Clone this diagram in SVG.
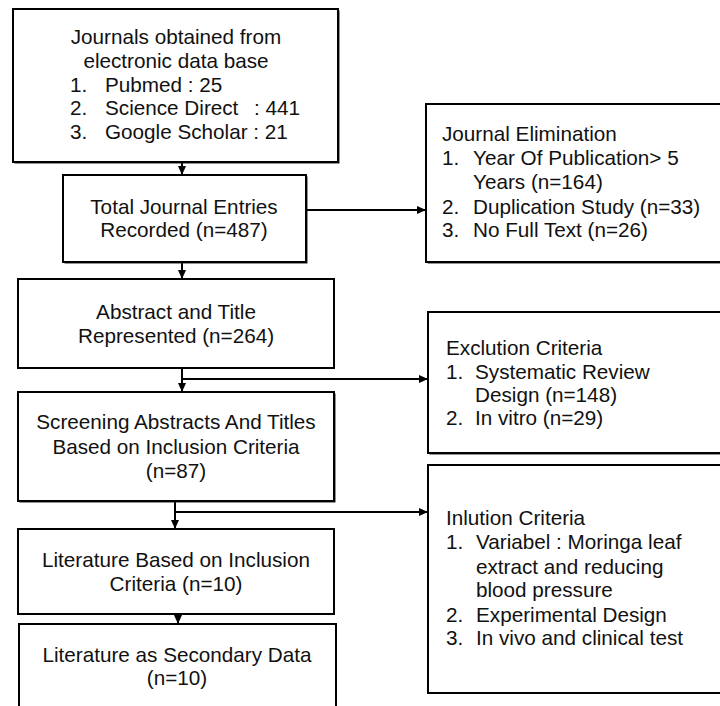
<svg xmlns="http://www.w3.org/2000/svg" width="720" height="706" viewBox="0 0 720 706">
<defs>
<style>
.box{fill:#fff;stroke:#000;stroke-width:2}
.sh{fill:#222}
text{font-family:"Liberation Sans",Arial,sans-serif;font-size:20.7px;fill:#111}
.c{text-anchor:middle}
.ln{stroke:#000;stroke-width:2;fill:none}
</style>
<marker id="ah" markerWidth="10" markerHeight="10" refX="9" refY="5" orient="auto" markerUnits="userSpaceOnUse">
<path d="M0,1 L9,5 L0,9 Z" fill="#000"/>
</marker>
</defs>
<rect width="720" height="706" fill="#fff"/>

<g id="connectors">
<line class="ln" x1="182" y1="162" x2="182" y2="175" marker-end="url(#ah)"/>
<line class="ln" x1="306" y1="210" x2="426" y2="210" marker-end="url(#ah)"/>
<line class="ln" x1="182" y1="262" x2="182" y2="279" marker-end="url(#ah)"/>
<line class="ln" x1="182" y1="368" x2="182" y2="392" marker-end="url(#ah)"/>
<line class="ln" x1="182" y1="379" x2="428" y2="379" marker-end="url(#ah)"/>
<line class="ln" x1="175" y1="501" x2="175" y2="529" marker-end="url(#ah)"/>
<line class="ln" x1="175" y1="512" x2="428" y2="512" marker-end="url(#ah)"/>
<line class="ln" x1="178" y1="614" x2="178" y2="624" marker-end="url(#ah)"/>
</g>

<g id="n1">
<rect class="sh" x="14.5" y="10.5" width="325" height="153"/>
<rect class="box" x="13" y="9" width="325" height="153"/>
<text class="c" x="176" y="44">Journals obtained from</text>
<text class="c" x="176" y="68">electronic data base</text>
<text x="70" y="92">1.</text><text x="105" y="92">Pubmed : 25</text>
<text x="70" y="115">2.</text><text x="105" y="115">Science Direct</text><text x="254" y="115">: 441</text>
<text x="70" y="139">3.</text><text x="105" y="139">Google Scholar : 21</text>
</g>

<g id="n2">
<rect class="sh" x="64.5" y="176.5" width="243" height="87"/>
<rect class="box" x="63" y="175" width="243" height="87"/>
<text class="c" x="184" y="214">Total Journal Entries</text>
<text class="c" x="184" y="237">Recorded (n=487)</text>
</g>

<g id="n3">
<rect class="sh" x="427.5" y="105.5" width="310" height="158"/>
<rect class="box" x="426" y="104" width="310" height="158"/>
<text x="442" y="141">Journal Elimination</text>
<text x="442" y="165">1.</text><text x="473" y="165">Year Of Publication&gt; 5</text>
<text x="473" y="189">Years (n=164)</text>
<text x="442" y="214">2.</text><text x="473" y="214">Duplication Study (n=33)</text>
<text x="442" y="237">3.</text><text x="473" y="237">No Full Text (n=26)</text>
</g>

<g id="n4">
<rect class="box" x="18" y="279" width="316" height="89"/>
<text class="c" x="176" y="319">Abstract and Title</text>
<text class="c" x="176" y="343">Represented (n=264)</text>
</g>

<g id="n5">
<rect class="sh" x="429.5" y="313.5" width="308" height="141"/>
<rect class="box" x="428" y="312" width="308" height="141"/>
<text x="446" y="355">Exclution Criteria</text>
<text x="446" y="379">1.</text><text x="475" y="379">Systematic Review</text>
<text x="475" y="402">Design (n=148)</text>
<text x="446" y="425">2.</text><text x="475" y="425">In vitro (n=29)</text>
</g>

<g id="n6">
<rect class="sh" x="19.5" y="393.5" width="316" height="109"/>
<rect class="box" x="18" y="392" width="316" height="109"/>
<text class="c" x="176" y="429">Screening Abstracts And Titles</text>
<text class="c" x="176" y="454">Based on Inclusion Criteria</text>
<text class="c" x="176" y="478">(n=87)</text>
</g>

<g id="n7">
<rect class="box" x="428" y="465" width="308" height="228"/>
<text x="446" y="525">Inlution Criteria</text>
<text x="446" y="549">1.</text><text x="476" y="549">Variabel : Moringa leaf</text>
<text x="476" y="574">extract and reducing</text>
<text x="476" y="597">blood pressure</text>
<text x="446" y="622">2.</text><text x="476" y="622">Experimental Design</text>
<text x="446" y="645">3.</text><text x="476" y="645">In vivo and clinical test</text>
</g>

<g id="n8">
<rect class="box" x="18" y="529" width="316" height="85"/>
<text class="c" x="176" y="567">Literature Based on Inclusion</text>
<text class="c" x="176" y="591">Criteria (n=10)</text>
</g>

<g id="n9">
<rect class="box" x="19" y="624" width="317" height="100"/>
<text class="c" x="177" y="662">Literature as Secondary Data</text>
<text class="c" x="177" y="685">(n=10)</text>
</g>
</svg>
